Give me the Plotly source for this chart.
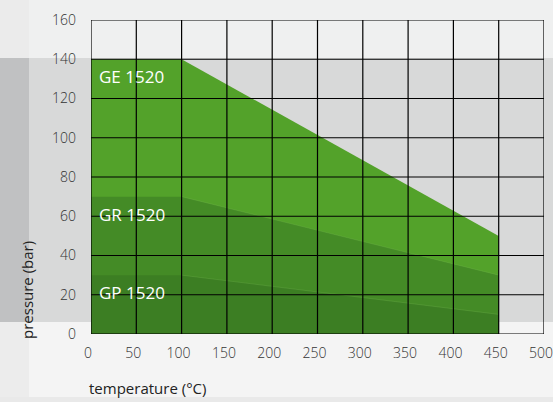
import plotly.graph_objects as go

# ---- data ----
temps = [0, 100, 450]
ge_1520 = [140, 140, 50]
gr_1520 = [70, 70, 30]
gp_1520 = [30, 30, 10]
series_names = ["GE 1520", "GR 1520", "GP 1520"]
series_colors = ["#53a22a", "#448b26", "#3c7e23"]
x_ticks = [0, 50, 100, 150, 200, 250, 300, 350, 400, 450, 500]
y_ticks = [0, 20, 40, 60, 80, 100, 120, 140, 160]
label_y = [131, 61, 21]

W, H = 553, 402
L, R, T, B = 91, 9, 20, 68
PW, PH = W - L - R, H - T - B

def px(x):
    return (x - L) / PW

def py(y):
    return (H - B - y) / PH

fig = go.Figure()
all_series = [ge_1520, gr_1520, gp_1520]
for vals, name, col in zip(all_series, series_names, series_colors):
    fig.add_trace(go.Scatter(x=temps, y=vals, mode="lines", fill="tozeroy",
                             fillcolor=col, line=dict(width=0, color=col),
                             name=name, showlegend=False, hoverinfo="skip"))
# faint light seams along the sloped tops of the inner bands
for vals in all_series[1:]:
    fig.add_trace(go.Scatter(x=temps[1:], y=vals[1:], mode="lines",
                             line=dict(width=0.6, color="rgba(140,200,100,0.35)"),
                             showlegend=False, hoverinfo="skip"))

shapes = []
# background panels
shapes.append(dict(type="rect", xref="paper", yref="paper", x0=px(0), x1=px(W), y0=py(58), y1=py(0),
                   fillcolor="#eff0f0", line=dict(width=0), layer="below"))
shapes.append(dict(type="rect", xref="paper", yref="paper", x0=px(0), x1=px(W), y0=py(322), y1=py(58),
                   fillcolor="#d8d9d9", line=dict(width=0), layer="below"))
shapes.append(dict(type="rect", xref="paper", yref="paper", x0=px(0), x1=px(29), y0=py(322), y1=py(58),
                   fillcolor="#c0c1c2", line=dict(width=0), layer="below"))
shapes.append(dict(type="rect", xref="paper", yref="paper", x0=px(0), x1=px(W), y0=py(H), y1=py(322),
                   fillcolor="#f4f4f4", line=dict(width=0), layer="below"))
shapes.append(dict(type="rect", xref="paper", yref="paper", x0=px(0), x1=px(29), y0=py(397), y1=py(322),
                   fillcolor="#ececec", line=dict(width=0), layer="below"))
shapes.append(dict(type="rect", xref="paper", yref="paper", x0=px(0), x1=px(29), y0=py(58), y1=py(0),
                   fillcolor="#ebebeb", line=dict(width=0), layer="below"))
shapes.append(dict(type="rect", xref="paper", yref="paper", x0=px(0), x1=px(W), y0=py(H), y1=py(397),
                   fillcolor="#e9e9e9", line=dict(width=0), layer="below"))
# grid lines above the fills
for xv in x_ticks:
    shapes.append(dict(type="line", xref="x", yref="y", x0=xv, x1=xv, y0=y_ticks[0], y1=y_ticks[-1],
                       line=dict(color="#000000", width=1.2), layer="above"))
for yv in y_ticks:
    shapes.append(dict(type="line", xref="x", yref="y", x0=x_ticks[0], x1=x_ticks[-1], y0=yv, y1=yv,
                       line=dict(color="#000000", width=1.2), layer="above"))

annotations = []
for name, yv in zip(series_names, label_y):
    annotations.append(dict(x=7, y=yv, xref="x", yref="y", text=name, showarrow=False,
                            xanchor="left", yanchor="middle",
                            font=dict(family="Open Sans", size=17, color="#ffffff")))
annotations.append(dict(x=px(87), y=py(388), xref="paper", yref="paper", text="temperature (°C)",
                        showarrow=False, xanchor="left", yanchor="middle",
                        font=dict(family="Open Sans", size=15, color="#222222")))
annotations.append(dict(x=px(27), y=py(290), xref="paper", yref="paper", text="pressure (bar)",
                        showarrow=False, xanchor="center", yanchor="middle", textangle=-90,
                        font=dict(family="Open Sans", size=15, color="#222222")))

tick_font = dict(family="Open Sans", size=14, color="#333333", weight=300)
fig.update_layout(
    width=W, height=H,
    margin=dict(l=L, r=R, t=T, b=B, autoexpand=False),
    paper_bgcolor="#f4f4f4",
    plot_bgcolor="rgba(0,0,0,0)",
    shapes=shapes,
    annotations=annotations,
    font=dict(family="Open Sans", size=14, color="#333333"),
    xaxis=dict(range=[x_ticks[0], x_ticks[-1]], tickvals=x_ticks, showgrid=False, zeroline=False,
               showline=False, ticks="", ticklabelstandoff=9, ticklabelshift=-3,
               ticklabeloverflow="allow", tickfont=tick_font, fixedrange=True),
    yaxis=dict(range=[y_ticks[0], y_ticks[-1]], tickvals=y_ticks, showgrid=False, zeroline=False,
               showline=False, ticks="", ticklabelstandoff=14,
               ticklabeloverflow="allow", tickfont=tick_font, fixedrange=True),
)

fig.write_html("out.html", config={"displayModeBar": False},
               post_script="document.body.style.margin='0';document.body.style.overflow='hidden';")
